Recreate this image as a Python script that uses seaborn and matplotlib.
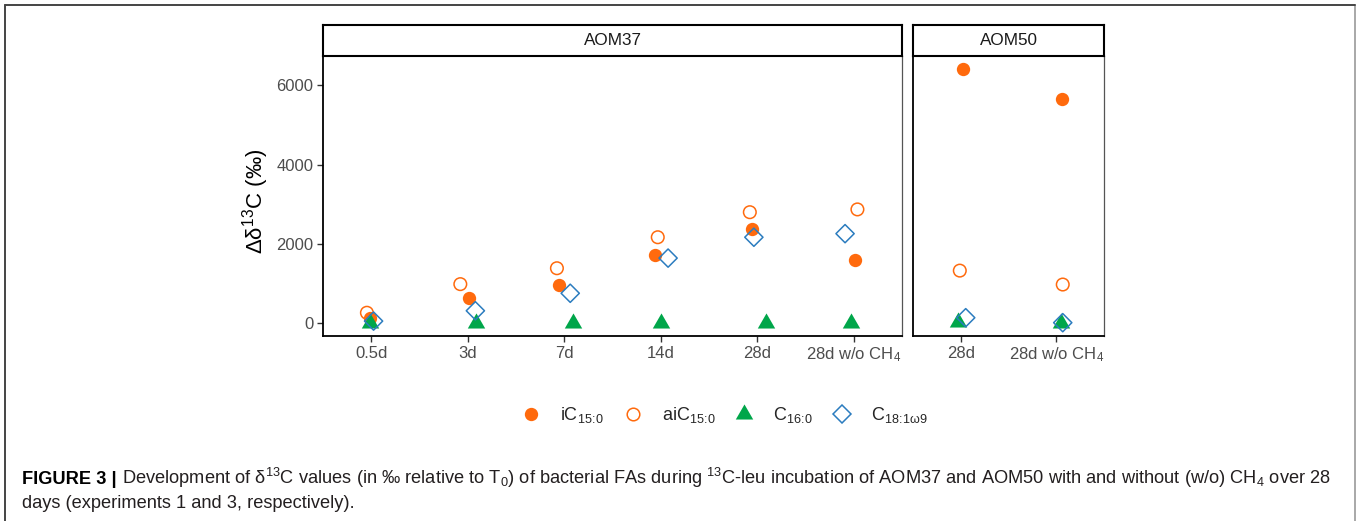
import numpy as np
import pandas as pd
import matplotlib
matplotlib.use("Agg")
import matplotlib.pyplot as plt
import seaborn as sns
from matplotlib.lines import Line2D

# ---------------- data ----------------
panels = ["AOM37", "AOM50"]
times_aom37 = ["0.5d", "3d", "7d", "14d", "28d", "28d w/o CH$_4$"]
times_aom50 = ["28d", "28d w/o CH$_4$"]

iC15_aom37 = [150, 650, 970, 1720, 2380, 1600]
aiC15_aom37 = [270, 990, 1390, 2170, 2800, 2870]
C16_aom37 = [10, 10, 15, 15, 20, 15]
C18_aom37 = [60, 320, 760, 1645, 2170, 2260]

iC15_aom50 = [6410, 5650]
aiC15_aom50 = [1330, 980]
C16_aom50 = [30, 5]
C18_aom50 = [145, 20]

series_keys = ["iC15", "aiC15", "C16", "C18"]
series_labels = ["iC$_{15\\!:\\!0}$", "aiC$_{15\\!:\\!0}$", "C$_{16\\!:\\!0}$",
                 "C$_{18\\!:\\!1\\omega9}$"]

# horizontal jitter of the points (category units), AOM37 (6) then AOM50 (2)
jit_iC15 = [-0.01, 0.01, -0.055, -0.056, -0.052, 0.018, 0.02, 0.055]
jit_aiC15 = [-0.045, -0.077, -0.076, -0.031, -0.077, 0.038, -0.01, 0.068]
jit_C16 = [-0.01, 0.086, 0.09, 0.006, 0.093, -0.024, -0.034, 0.052]
jit_C18 = [0.024, 0.079, 0.062, 0.076, -0.035, -0.09, 0.052, 0.068]

# ---------------- styling ----------------
sns.set_theme(style="white")
plt.rcParams['font.family'] = ['Liberation Sans', 'DejaVu Sans']
plt.rcParams['mathtext.fontset'] = 'custom'
plt.rcParams['mathtext.rm'] = 'Liberation Sans'
plt.rcParams['mathtext.it'] = 'Liberation Sans:italic'
plt.rcParams['mathtext.bf'] = 'Liberation Sans:bold'
plt.rcParams['mathtext.default'] = 'regular'

ORANGE = "#FF6A0D"
GREEN = "#00A64A"
BLUE = "#2B7CBF"
TRI = [(0, 1), (-0.866, -0.5), (0.866, -0.5)]

styles = {
    "iC15": dict(marker="o", s=92, color=ORANGE, filled=True),
    "aiC15": dict(marker="o", s=82, color=ORANGE, filled=False),
    "C16": dict(marker=TRI, s=210, color=GREEN, filled=True),
    "C18": dict(marker="D", s=86, color=BLUE, filled=False),
}
draw_order = ["aiC15", "iC15", "C16", "C18"]

# ---------------- long table ----------------
values = {
    "iC15": (iC15_aom37, iC15_aom50, jit_iC15),
    "aiC15": (aiC15_aom37, aiC15_aom50, jit_aiC15),
    "C16": (C16_aom37, C16_aom50, jit_C16),
    "C18": (C18_aom37, C18_aom50, jit_C18),
}
rows = []
for key, (v37, v50, jit) in values.items():
    for i, (t, v) in enumerate(zip(times_aom37, v37)):
        rows.append(dict(panel="AOM37", time=t, pos=i, series=key, value=v, jit=jit[i]))
    for i, (t, v) in enumerate(zip(times_aom50, v50)):
        rows.append(dict(panel="AOM50", time=t, pos=i, series=key, value=v, jit=jit[6 + i]))
df = pd.DataFrame(rows)
df["xpos"] = df["pos"] + df["jit"]

vmin, vmax = df["value"].min(), df["value"].max()
span = vmax - vmin
ylo, yhi = vmin - 0.05 * span, vmax + 0.05 * span

# ---------------- figure ----------------
W, H = 1359, 521
fig = plt.figure(figsize=(W / 100, H / 100), dpi=100)
fig.patch.set_facecolor("white")


def frac(x0, y0, x1, y1):
    return [x0 / W, 1 - y1 / H, (x1 - x0) / W, (y1 - y0) / H]


panel_px = {"AOM37": (323, 902), "AOM50": (913, 1104)}
panel_times = {"AOM37": times_aom37, "AOM50": times_aom50}
axes = {}
for panel in panels:
    x0, x1 = panel_px[panel]
    ax = fig.add_axes(frac(x0, 56, x1, 336))
    axes[panel] = ax
    sub = df[df["panel"] == panel]
    for key in draw_order:
        d = sub[sub["series"] == key]
        st = styles[key]
        if st["filled"]:
            sns.scatterplot(data=d, x="xpos", y="value", ax=ax, marker=st["marker"],
                            s=st["s"], color=st["color"], linewidth=0, legend=False)
        else:
            sns.scatterplot(data=d, x="xpos", y="value", ax=ax, marker=st["marker"],
                            s=st["s"], color=st["color"], facecolor="none",
                            edgecolor=st["color"], linewidth=1.1, legend=False)
    n = len(panel_times[panel])
    ax.set_xlim(-0.5, n - 0.5)
    ax.set_xticks(range(n))
    ax.set_xticklabels(panel_times[panel])
    ax.set_ylim(ylo, yhi)
    ax.set_xlabel("")
    ax.set_ylabel("")
    ax.set_facecolor("white")
    ax.tick_params(axis="x", bottom=True, length=4, width=1, color="#333333",
                   labelcolor="#4D4D4D", labelsize=12, pad=3)
    for s in ["left", "bottom", "top"]:
        ax.spines[s].set_visible(True)
        ax.spines[s].set_color("black")
        ax.spines[s].set_linewidth(1.3)
    ax.spines["right"].set_visible(True)
    ax.spines["right"].set_color("#555555")
    ax.spines["right"].set_linewidth(0.9)

    # strip
    sax = fig.add_axes(frac(x0, 25, x1, 56))
    sax.set_xticks([])
    sax.set_yticks([])
    sax.set_facecolor("white")
    for s in sax.spines.values():
        s.set_visible(True)
        s.set_color("black")
        s.set_linewidth(1.5)
    sax.text(0.5, 0.5, panel, ha="center", va="center", fontsize=12.3, color="#1A1A1A",
             transform=sax.transAxes)

ax1, ax2 = axes["AOM37"], axes["AOM50"]
ax1.set_yticks([0, 2000, 4000, 6000])
ax1.tick_params(axis="y", left=True, length=4, width=1, color="#333333",
                labelcolor="#4D4D4D", labelsize=12, pad=3)
ax2.set_yticks([0, 2000, 4000, 6000])
ax2.tick_params(axis="y", left=False, labelleft=False)
ax1.set_ylabel("Δδ$^{13}$C (‰)", fontsize=16, color="black")
ax1.yaxis.set_label_coords(-0.09, 0.48)

# legend
handles = []
for key in series_keys:
    st = styles[key]
    ms = np.sqrt(st["s"])
    if st["filled"]:
        h = Line2D([], [], linestyle="none", marker=st["marker"], markersize=ms,
                   markerfacecolor=st["color"], markeredgewidth=0)
    else:
        h = Line2D([], [], linestyle="none", marker=st["marker"], markersize=ms,
                   markerfacecolor="none", markeredgecolor=st["color"], markeredgewidth=1.1)
    handles.append(h)
fig.legend(handles, series_labels, loc="center", bbox_to_anchor=(724 / W, 1 - 415 / H),
           ncol=4, frameon=False, fontsize=13, handlelength=1.2, handletextpad=1.0,
           columnspacing=1.0, borderpad=0.2)

# figure frame (page border)
frame_kw = dict(transform=fig.transFigure, color="#444444", linewidth=1.4)
fig.add_artist(Line2D([5 / W, 5 / W], [0, 1 - 5 / H], **frame_kw))
fig.add_artist(Line2D([1355 / W, 1355 / W], [0, 1 - 5 / H], color="#999999",
                      linewidth=1.2, transform=fig.transFigure))
fig.add_artist(Line2D([5 / W, 1355 / W], [1 - 5 / H, 1 - 5 / H], **frame_kw))

# caption
cap_bold = "FIGURE 3 |"
cap_line1 = ("Development of δ$^{13}$C values (in ‰ relative to T$_0$) of bacterial FAs during "
             "$^{13}$C-leu incubation of AOM37 and AOM50 with and without (w/o) CH$_4$ over 28")
cap_line2 = "days (experiments 1 and 3, respectively)."
cap_x0, cap_x1 = 22, 1325
base1, base2 = 484, 508

renderer = fig.canvas.get_renderer()
fs = 11.0
tb = fig.text(cap_x0 / W, 1 - base1 / H, cap_bold, fontsize=fs, fontweight="bold",
              color="black", va="baseline")
tr = fig.text(0, 1 - base1 / H, cap_line1, fontsize=fs, color="#231F20", va="baseline")
t2 = fig.text(cap_x0 / W, 1 - base2 / H, cap_line2, fontsize=fs, color="#231F20", va="baseline")
for _ in range(3):
    for t in (tb, tr, t2):
        t.set_fontsize(fs)
    bb = tb.get_window_extent(renderer)
    gap = 0.3 * fs * 100 / 72
    tr.set_x((bb.x1 + gap) / W)
    bb2 = tr.get_window_extent(renderer)
    total = bb2.x1 - cap_x0
    fs = fs * (cap_x1 - cap_x0) / total

fig.savefig("out.png", dpi=100, facecolor="white")
